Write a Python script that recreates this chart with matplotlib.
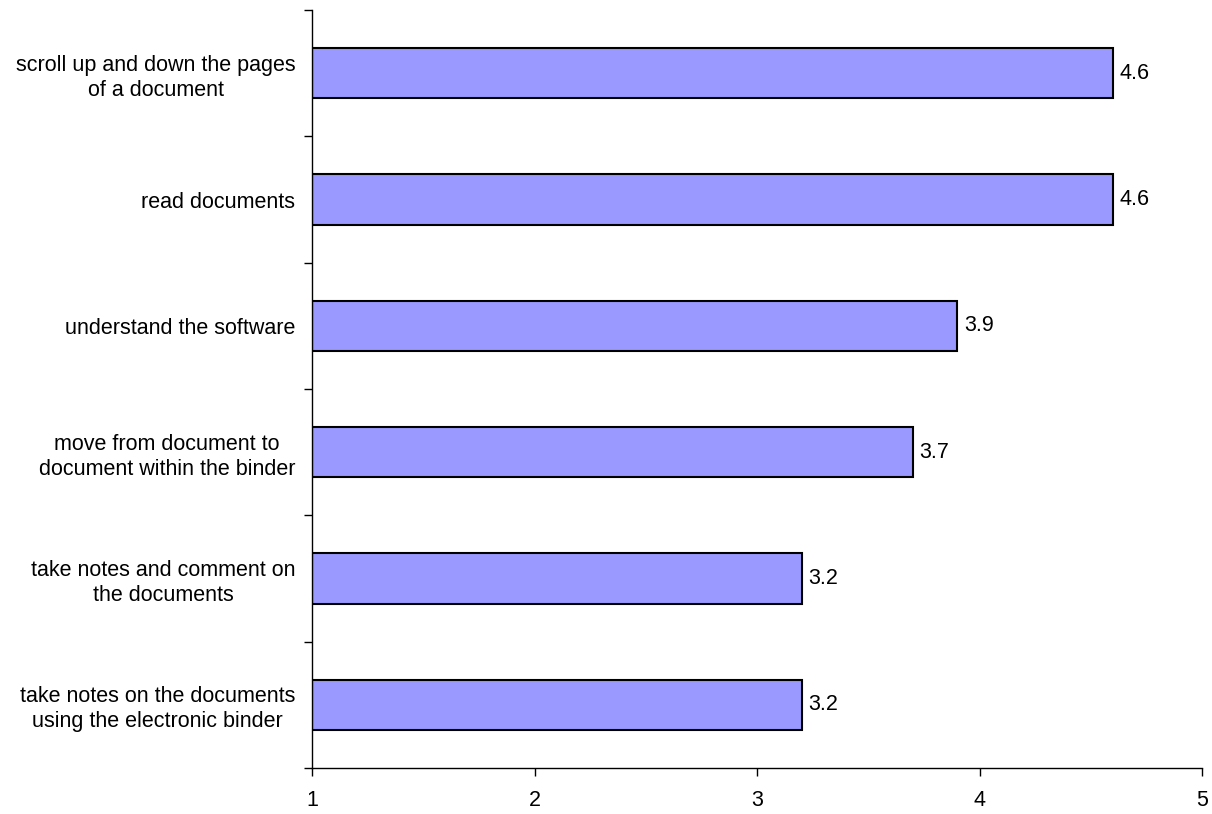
import numpy as np
import matplotlib.pyplot as plt
from matplotlib.ticker import FixedLocator

# Datos -------------------------------------------------------------------
categorias = [
    "take notes on the documents\nusing the electronic binder",
    "take notes and comment on\nthe documents",
    "move from document to\ndocument within the binder",
    "understand the software",
    "read documents",
    "scroll up and down the pages\nof a document",
]
valores = [3.2, 3.2, 3.7, 3.9, 4.6, 4.6]
etiquetas_valor = ["3.2", "3.2", "3.7", "3.9", "4.6", "4.6"]
ticks_x = [1, 2, 3, 4, 5]

plt.rcParams['font.family'] = ['Liberation Sans', 'DejaVu Sans']
fs = 15.5

fig = plt.figure(figsize=(12.12, 8.14), dpi=100)
ax = fig.add_axes([312 / 1212, 1 - 768 / 814, (1202 - 312) / 1212, (768 - 10) / 814])

y = np.arange(len(categorias))
base = 1
barras = ax.barh(y, np.array(valores) - base, left=base, height=0.4,
                 color='#9999FF', edgecolor='black', linewidth=1.5)

# etiquetas de valor al final de cada barra
for yi, v, t in zip(y, valores, etiquetas_valor):
    ax.annotate(t, xy=(v, yi), xytext=(5, 0), textcoords='offset points',
                va='center', ha='left', fontsize=fs)

ax.set_xlim(1, 5)
ax.set_ylim(-0.5, len(categorias) - 0.5)
ax.set_xticks(ticks_x)
ax.set_xticklabels([str(t) for t in ticks_x], fontsize=fs)
ax.set_yticks(y)
ax.set_yticklabels(categorias, fontsize=fs, multialignment='center', linespacing=1.25)
ax.yaxis.set_minor_locator(FixedLocator(np.arange(-0.5, len(categorias), 1.0)))

ax.tick_params(axis='y', which='major', length=0, pad=12)
ax.tick_params(axis='y', which='minor', length=6, width=1, direction='out')
ax.tick_params(axis='x', which='major', length=6, width=1, direction='out', pad=10)

for lado in ['top', 'right']:
    ax.spines[lado].set_visible(False)
ax.spines['left'].set_linewidth(1)
ax.spines['bottom'].set_linewidth(1)

fig.savefig('out.png', dpi=100)
